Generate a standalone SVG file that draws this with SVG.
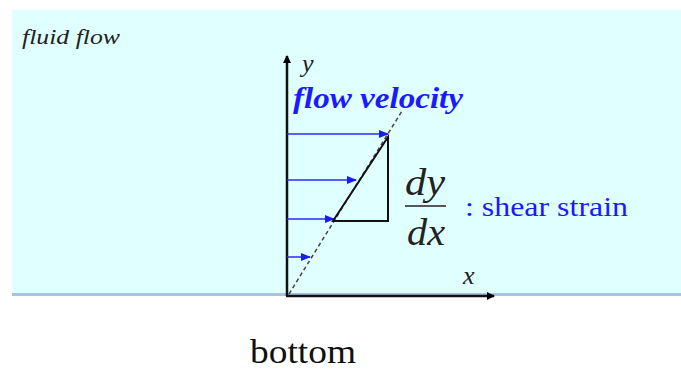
<svg xmlns="http://www.w3.org/2000/svg" width="681" height="369" viewBox="0 0 681 369">
<defs>
<marker id="ah" markerWidth="8" markerHeight="8" refX="7" refY="4" orient="auto" markerUnits="userSpaceOnUse"><path d="M0,0 L8,4 L0,8 Z" fill="#000"/></marker>
<marker id="bh" markerWidth="10" markerHeight="8" refX="9" refY="4" orient="auto" markerUnits="userSpaceOnUse"><path d="M0,0 L10,4 L0,8 Z" fill="#1a1aff"/></marker>
<style>
.ax{stroke:#111;stroke-width:2.5;fill:none}
.bl{stroke:#2a2aff;stroke-width:1.5;fill:none}
.t{font-family:"Liberation Serif",serif}
</style>
</defs>
<rect x="12" y="10" width="669" height="285" fill="#e0ffff"/>
<line x1="12" y1="294.5" x2="681" y2="294.5" stroke="#a8c4e4" stroke-width="3"/>
<text class="t" x="22" y="44" font-size="20" font-style="italic" fill="#222" textLength="98" lengthAdjust="spacingAndGlyphs">fluid flow</text>
<g id="connectors">
<line class="ax" x1="287" y1="296" x2="287" y2="56" marker-end="url(#ah)"/>
<line class="ax" x1="286" y1="296" x2="494" y2="296" marker-end="url(#ah)"/>
<line class="bl" x1="287" y1="134" x2="388" y2="134" marker-end="url(#bh)"/>
<line class="bl" x1="287" y1="180" x2="356" y2="180" marker-end="url(#bh)"/>
<line class="bl" x1="287" y1="219" x2="334" y2="219" marker-end="url(#bh)"/>
<line class="bl" x1="287" y1="257" x2="310" y2="257" marker-end="url(#bh)"/>
<line x1="289" y1="294" x2="402" y2="111" stroke="#444" stroke-width="1.5" stroke-dasharray="4,3"/>
<path d="M333,221 L388,137 L388,221 Z" fill="none" stroke="#111" stroke-width="2"/>
</g>
<g id="labels">
<text class="t" x="302" y="72" font-size="26" font-style="italic" fill="#222">y</text>
<text class="t" x="293" y="108" font-size="29" font-style="italic" font-weight="bold" fill="#1a1aff" textLength="170" lengthAdjust="spacingAndGlyphs">flow velocity</text>
<text class="t" x="463" y="284" font-size="26" font-style="italic" fill="#222">x</text>
</g>
<g id="strain">
<text class="t" x="405" y="195" font-size="38" font-style="italic" fill="#222" textLength="40" lengthAdjust="spacingAndGlyphs">dy</text>
<line x1="405" y1="206" x2="446" y2="206" stroke="#222" stroke-width="1.5"/>
<text class="t" x="407" y="245" font-size="38" font-style="italic" fill="#222" textLength="38" lengthAdjust="spacingAndGlyphs">dx</text>
<text class="t" x="465" y="216" font-size="28" fill="#1a1aff" textLength="163" lengthAdjust="spacingAndGlyphs">: shear strain</text>
</g>
<text class="t" x="250" y="363" font-size="34" fill="#111" textLength="106" lengthAdjust="spacingAndGlyphs">bottom</text>
</svg>
